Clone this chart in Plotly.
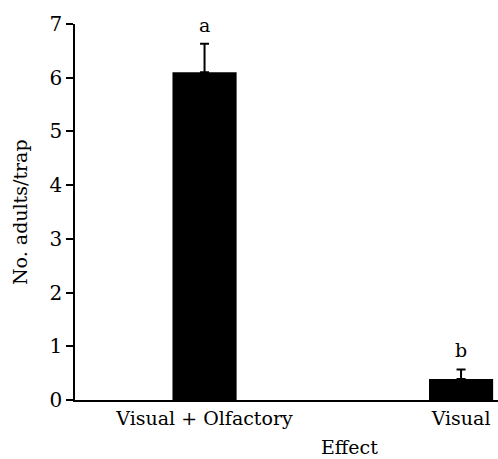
import plotly.graph_objects as go

categories = ["Visual + Olfactory", "Visual"]
means = [6.1, 0.39]
errors = [0.53, 0.18]
letters = ["a", "b"]
x_pos = [0, 1]

FONT = "DejaVu Serif, serif"
FS = 19

fig = go.Figure()
fig.add_trace(go.Bar(
    x=x_pos, y=means, width=0.25,
    marker=dict(color="black", line=dict(width=0)),
    error_y=dict(type="data", array=errors, arrayminus=[0, 0], symmetric=False,
                 color="black", thickness=2, width=4.5),
))

for xp, m, e, lt in zip(x_pos, means, errors, letters):
    fig.add_annotation(x=xp, y=m + e, text=lt, showarrow=False, yshift=19,
                       font=dict(family=FONT, size=FS, color="black"))

fig.add_annotation(text="Effect", xref="paper", yref="paper", x=0.65, y=0,
                   yshift=-47, yanchor="middle", xanchor="center", showarrow=False,
                   font=dict(family=FONT, size=FS, color="black"))
fig.add_annotation(text="No. adults/trap", xref="paper", yref="paper", x=0, y=0.5,
                   xshift=-55, xanchor="center", yanchor="middle", textangle=-90,
                   showarrow=False,
                   font=dict(family=FONT, size=FS, color="black"))

fig.update_layout(
    width=498, height=459,
    margin=dict(l=75, r=0, t=24, b=59),
    plot_bgcolor="white", paper_bgcolor="white",
    showlegend=False,
    font=dict(family=FONT, size=FS, color="black"),
    xaxis=dict(range=[-0.505, 1.144], tickvals=x_pos, ticktext=categories,
               showline=True, linecolor="black", linewidth=1.5, ticks="",
               showgrid=False, zeroline=False, fixedrange=True),
    yaxis=dict(range=[0, 7], tickvals=list(range(8)), showline=True,
               linecolor="black", linewidth=1.5, ticks="outside", ticklen=7,
               tickwidth=1.5, tickcolor="black", showgrid=False, zeroline=False,
               tickfont=dict(size=20)),
)

fig.write_html("out.html")
